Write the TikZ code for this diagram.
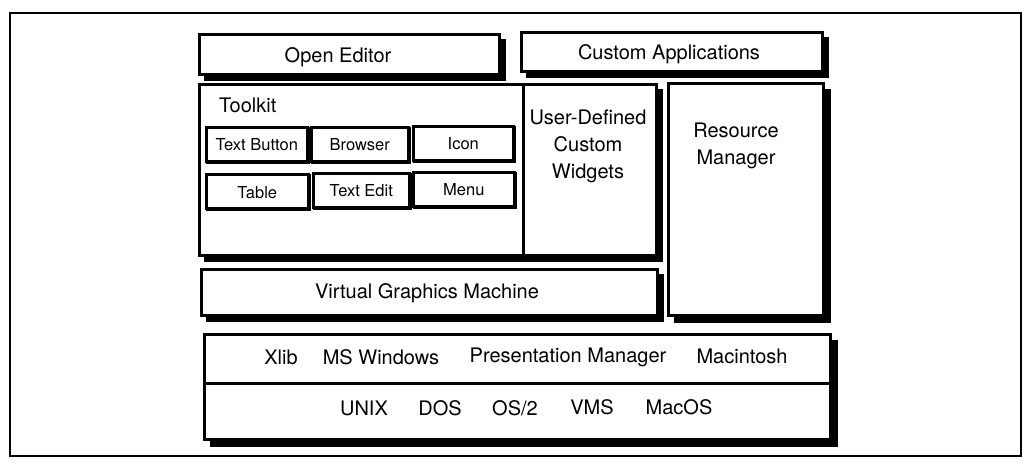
\documentclass[tikz,border=0pt]{standalone}
\usepackage{fontspec}
\setmainfont{TeX Gyre Heros}
\usetikzlibrary{calc}
\newcommand\lblfont{\fontsize{20}{27}\selectfont}
\newcommand\btnfont{\fontsize{16.5}{20}\selectfont}
% name, x, y, w, h, shadow offset, style
\newcommand\shbox[7]{%
  \path[boxshadow] (#2+#6,#3+#6) rectangle ++(#4,#5);
  \node[#7,minimum width=#4pt,minimum height=#5pt] (#1) at (#2,#3) {};}
\begin{document}
\begin{tikzpicture}[x=1pt,y=-1pt,
  box/.style={draw=black,fill=white,line width=2.6pt,anchor=north west,inner sep=0pt},
  btn/.style={draw=black,fill=white,line width=2.6pt,anchor=north west,inner sep=0pt},
  boxshadow/.style={draw=black,fill=black,line width=2.6pt},
  lbl/.style={inner sep=0pt,font=\lblfont},
  blbl/.style={inner sep=0pt,font=\btnfont},
  frame/.style={draw=black,line width=1.6pt}]
\useasboundingbox (0,0) rectangle (1028,466);
\path[frame] (10,13) rectangle (1021,456);
% top boxes
\shbox{oe}{198}{33}{300}{40}{7}{box}
\shbox{ca}{520}{31}{301}{39}{7}{box}
% toolkit and user-defined
\shbox{tk}{198}{83}{324}{171}{7}{box}
\shbox{ud}{522}{83}{133}{171}{7}{box}
% resource manager
\shbox{rm}{667}{82}{155}{232}{8}{box}
% virtual graphics machine
\shbox{vgm}{200}{268}{456}{46}{7}{box}
% platform box
\shbox{win}{203}{333}{626}{49}{8}{box}
\shbox{os}{203}{382}{626}{56}{8}{box}
% buttons
\shbox{b1}{205}{126}{101}{34}{2.5}{btn}
\shbox{b2}{310}{126}{97}{34}{2.5}{btn}
\shbox{b3}{412}{125}{100}{34}{2.5}{btn}
\shbox{b4}{205}{173}{102}{34}{2.5}{btn}
\shbox{b5}{312}{172}{96}{34}{2.5}{btn}
\shbox{b6}{412}{171}{101}{34}{2.5}{btn}
% labels
\node[lbl] (toe) at (338,57) {Open Editor};
\node[lbl] (tca) at (669,54) {Custom Applications};
\node[lbl,anchor=west] (ttk) at (219,105) {Toolkit};
\node[lbl,align=center] (tud) at (588,146) {User-Defined\\Custom\\Widgets};
\node[lbl,align=center] (trm) at (736,146) {Resource\\Manager};
\node[lbl] (tvgm) at (427,293) {Virtual Graphics Machine};
\node[blbl] (tb1) at (b1.center) {Text Button};
\node[blbl] (tb2) at (b2.center) {Browser};
\node[blbl] (tb3) at (b3.center) {Icon};
\node[blbl] (tb4) at ($(b4.center)+(0,1)$) {Table};
\node[blbl] (tb5) at (b5.center) {Text Edit};
\node[blbl] (tb6) at (b6.center) {Menu};
\node[lbl] (w1) at (281,357) {Xlib};
\node[lbl] (w2) at (381,357) {MS Windows};
\node[lbl] (w3) at (568,357) {Presentation Manager};
\node[lbl] (w4) at (742,356) {Macintosh};
\node[lbl] (o1) at (364,408) {UNIX};
\node[lbl] (o2) at (440,408) {DOS};
\node[lbl] (o3) at (515,408) {OS/2};
\node[lbl] (o4) at (592,407) {VMS};
\node[lbl] (o5) at (679,407) {MacOS};
\end{tikzpicture}
\end{document}
